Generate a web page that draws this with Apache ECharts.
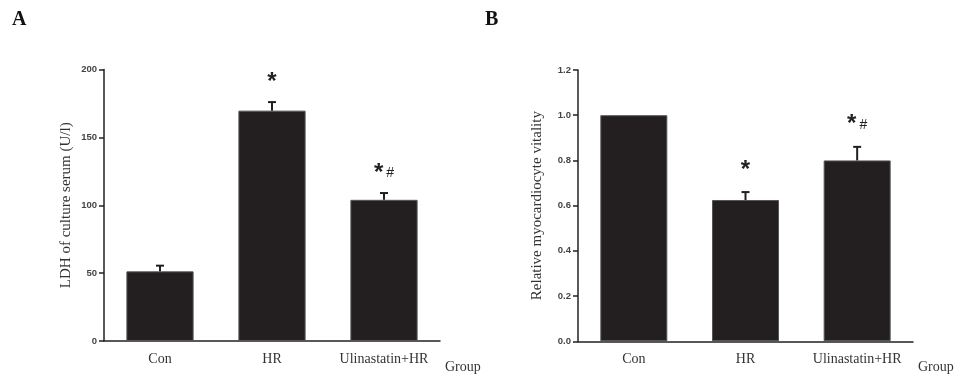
<!DOCTYPE html>
<html>
<head>
<meta charset="utf-8">
<script src="https://cdn.jsdelivr.net/npm/echarts@6/dist/echarts.min.js"></script>
<style>
  html, body { margin: 0; padding: 0; background: #fff; }
  #chart { width: 957px; height: 378px; }
</style>
</head>
<body>
<div id="chart"></div>
<script>
// =========================
// DATA
// =========================
const groups = ["Con", "HR", "Ulinastatin+HR"];

const ldhMean = [51.3, 169.7, 104];
const ldhErr = [4.2, 6.3, 5];
const ldhMarks = ["", "*", "*#"];

const vitalityMean = [1.0, 0.625, 0.80];
const vitalityErr = [0, 0.035, 0.06];
const vitalityMarks = ["", "*", "*#"];

const BAR_COLOR = "#231f20";
const SERIF = "'Liberation Serif', 'DejaVu Serif', serif";
const SANS = "'Liberation Sans', Arial, sans-serif";

const chart = echarts.init(document.getElementById("chart"));

function yAxisFor(gridIndex, name, max, interval, fmt, gap) {
    return {
        type: "value",
        gridIndex,
        min: 0,
        max,
        interval,
        name,
        nameLocation: "middle",
        nameGap: gap,
        nameTextStyle: { fontFamily: SERIF, fontSize: 15, color: "#333" },
        axisLine: { show: true, lineStyle: { color: "#222", width: 1.5 } },
        axisTick: { show: true, length: 5, lineStyle: { color: "#222", width: 1.5 } },
        axisLabel: {
            margin: 7,
            fontFamily: SANS,
            fontSize: 9.5,
            fontWeight: "bold",
            color: "#444",
            formatter: fmt
        },
        splitLine: { show: false }
    };
}

function xAxisFor(gridIndex) {
    return {
        type: "category",
        gridIndex,
        data: groups,
        axisLine: { lineStyle: { color: "#222", width: 1.5 } },
        axisTick: { show: false },
        axisLabel: {
            interval: 0,
            margin: 11,
            fontFamily: SERIF,
            fontSize: 14,
            color: "#333"
        }
    };
}

// error bar (upper whisker only) + significance marks
function errorSeries(idx, means, errs, marks, markOffset) {
    return {
        type: "custom",
        xAxisIndex: idx,
        yAxisIndex: idx,
        z: 5,
        data: means.map((m, i) => [i, m, m + errs[i]]),
        renderItem: function (params, api) {
            const top = api.coord([api.value(0), api.value(1)]);
            const hi = api.coord([api.value(0), api.value(2)]);
            const mark = marks[params.dataIndex];
            const children = [];
            if (hi[1] < top[1] - 0.5) {
                children.push(
                    {
                        type: "line",
                        shape: { x1: top[0], y1: top[1], x2: hi[0], y2: hi[1] },
                        style: { stroke: BAR_COLOR, lineWidth: 2 }
                    },
                    {
                        type: "line",
                        shape: { x1: hi[0] - 4, y1: hi[1], x2: hi[0] + 4, y2: hi[1] },
                        style: { stroke: BAR_COLOR, lineWidth: 2 }
                    }
                );
            }
            if (mark) {
                children.push({
                    type: "text",
                    x: hi[0],
                    y: hi[1] - markOffset,
                    style: {
                        text: mark.length > 1 ? "{s|*}{h|#}" : "{s|*}",
                        rich: {
                            s: { fontFamily: SANS, fontSize: 24, fontWeight: "bold", fill: "#222" },
                            h: { fontFamily: SANS, fontSize: 14, fill: "#222", padding: [0, 0, 0, 3] }
                        },
                        align: "center",
                        verticalAlign: "middle"
                    }
                });
            }
            return { type: "group", children };
        }
    };
}

chart.setOption({
    backgroundColor: "#fff",
    animation: false,

    // =========================
    // GRIDS
    // =========================
    grid: [
        { left: 104, top: 69.5, width: 336, height: 271.5 },
        { left: 578, top: 70, width: 335, height: 271.3 }
    ],

    xAxis: [xAxisFor(0), xAxisFor(1)],

    yAxis: [
        yAxisFor(0, "LDH of culture serum (U/l)", 200, 50, v => v, 30),
        yAxisFor(1, "Relative myocardiocyte vitality", 1.2, 0.2, v => v.toFixed(1), 33)
    ],

    // =========================
    // SERIES
    // =========================
    series: [
        {
            type: "bar",
            xAxisIndex: 0,
            yAxisIndex: 0,
            data: ldhMean,
            barWidth: "60%",
            itemStyle: { color: BAR_COLOR, borderColor: "#555", borderWidth: 1 }
        },
        errorSeries(0, ldhMean, ldhErr, ldhMarks, 20),
        {
            type: "bar",
            xAxisIndex: 1,
            yAxisIndex: 1,
            data: vitalityMean,
            barWidth: "60%",
            itemStyle: { color: BAR_COLOR, borderColor: "#555", borderWidth: 1 }
        },
        errorSeries(1, vitalityMean, vitalityErr, vitalityMarks, 22)
    ],

    graphic: [
        { type: "text", left: 12, top: 10, style: { text: "A", font: "bold 20px " + SERIF, fill: "#111" } },
        { type: "text", left: 485, top: 10, style: { text: "B", font: "bold 20px " + SERIF, fill: "#111" } },
        { type: "text", left: 445, top: 360, style: { text: "Group", font: "14px " + SERIF, fill: "#333" } },
        { type: "text", left: 918, top: 360, style: { text: "Group", font: "14px " + SERIF, fill: "#333" } }
    ]
});
</script>
</body>
</html>
